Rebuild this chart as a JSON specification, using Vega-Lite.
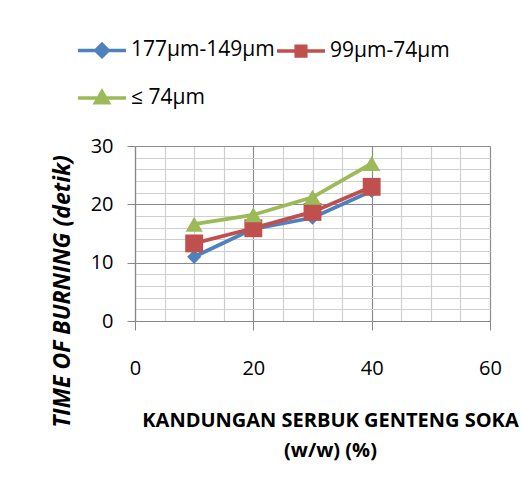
{
  "$schema": "https://vega.github.io/schema/vega-lite/v6.json",
  "autosize": {"type": "none"},
  "padding": {"left": 135, "top": 146, "right": 31, "bottom": 173},
  "width": 355,
  "height": 175,
  "background": "white",
  "config": {
    "font": "Open Sans",
    "view": {"stroke": null},
    "axis": {"labelFont": "Open Sans", "titleFont": "Open Sans", "labelColor": "#000", "titleColor": "#000"}
  },
  "data": {
    "values": [
      {"pct": 10, "time": 11.0, "series": "177µm-149µm"},
      {"pct": 20, "time": 15.8, "series": "177µm-149µm"},
      {"pct": 30, "time": 17.7, "series": "177µm-149µm"},
      {"pct": 40, "time": 22.3, "series": "177µm-149µm"},
      {"pct": 10, "time": 13.3, "series": "99µm-74µm"},
      {"pct": 20, "time": 15.9, "series": "99µm-74µm"},
      {"pct": 30, "time": 18.7, "series": "99µm-74µm"},
      {"pct": 40, "time": 23.0, "series": "99µm-74µm"},
      {"pct": 10, "time": 16.6, "series": "≤ 74µm"},
      {"pct": 20, "time": 18.2, "series": "≤ 74µm"},
      {"pct": 30, "time": 21.2, "series": "≤ 74µm"},
      {"pct": 40, "time": 27.0, "series": "≤ 74µm"}
    ]
  },
  "encoding": {
    "x": {
      "field": "pct", "type": "quantitative",
      "scale": {"domain": [0, 60], "nice": false},
      "axis": {
        "values": [0,5,10,15,20,25,30,35,40,45,50,55,60],
        "labelExpr": "datum.value % 20 === 0 ? datum.label : ''",
        "labelFlush": false,
        "labelFontSize": 20,
        "labelPadding": 28,
        "tickSize": 9,
        "tickColor": "#888",
        "tickOpacity": {"condition": {"test": "datum.value % 20 === 0", "value": 1}, "value": 0},
        "domainColor": "#888",
        "domainWidth": 1.2,
        "grid": true,
        "gridColor": {"condition": {"test": "datum.value % 20 === 0", "value": "#8c8c8c"}, "value": "#cfcfcf"},
        "gridWidth": 1.2,
        "title": ["KANDUNGAN SERBUK GENTENG SOKA", "(w/w) (%)"],
        "titleFontSize": 20,
        "titleFontWeight": "bold",
        "titlePadding": 32,
        "titleLineHeight": 30,
        "titleX": 195
      }
    },
    "y": {
      "field": "time", "type": "quantitative",
      "scale": {"domain": [0, 30], "nice": false},
      "axis": {
        "values": [0,2,4,6,8,10,12,14,16,18,20,22,24,26,28,30],
        "labelExpr": "datum.value % 10 === 0 ? datum.label : ''",
        "labelFlush": false,
        "labelFontSize": 20,
        "labelPadding": 14,
        "tickSize": 8,
        "tickColor": "#888",
        "tickOpacity": {"condition": {"test": "datum.value % 10 === 0", "value": 1}, "value": 0},
        "domainColor": "#888",
        "domainWidth": 1.2,
        "grid": true,
        "gridColor": {"condition": {"test": "datum.value % 10 === 0", "value": "#8c8c8c"}, "value": "#cfcfcf"},
        "gridWidth": 1.2,
        "title": "TIME OF BURNING (detik)",
        "titleFontSize": 23,
        "titleFontWeight": "bold",
        "titleFontStyle": "italic",
        "titleAngle": -90,
        "titleAlign": "center",
        "titleBaseline": "alphabetic",
        "titleX": -66,
        "titleY": 145
      }
    },
    "color": {
      "field": "series", "type": "nominal",
      "scale": {"domain": ["177µm-149µm", "99µm-74µm", "≤ 74µm"], "range": ["#4F81BD", "#C0504D", "#9BBB59"]},
      "legend": {
        "title": null,
        "orient": "none",
        "direction": "horizontal",
        "legendX": -59,
        "legendY": -122,
        "columns": 2,
        "columnPadding": -6,
        "rowPadding": 8,
        "padding": 0,
        "symbolSize": 2304,
        "symbolStrokeWidth": 3.5,
        "labelFont": "Open Sans",
        "labelFontSize": 21,
        "labelColor": "#000",
        "labelOffset": 3,
        "labelLimit": 300,
        "encode": {
          "symbols": {
            "update": {
              "shape": {"signal": "datum.value === '177µm-149µm' ? 'M-1,0L1,0M0,-0.26L0.26,0L0,0.26L-0.26,0Z' : datum.value === '99µm-74µm' ? 'M-1,0L1,0M-0.2,-0.2L0.2,-0.2L0.2,0.2L-0.2,0.2Z' : 'M-1,0L1,0M0,-0.27L0.27,0.2L-0.27,0.2Z'"},
              "size": {"value": 2304},
              "fill": {"signal": "scale('color', datum.value)"},
              "stroke": {"signal": "scale('color', datum.value)"},
              "strokeWidth": {"value": 3.5},
              "opacity": {"value": 1},
              "fillOpacity": {"value": 1}
            }
          }
        }
      }
    }
  },
  "layer": [
    {"mark": {"type": "line", "strokeWidth": 3.8}},
    {
      "transform": [{"filter": "datum.series === '177µm-149µm'"}],
      "mark": {"type": "point", "filled": true, "opacity": 1, "shape": "diamond", "size": 200}
    },
    {
      "transform": [{"filter": "datum.series === '99µm-74µm'"}],
      "mark": {"type": "point", "filled": true, "opacity": 1, "shape": "square", "size": 320}
    },
    {
      "transform": [{"filter": "datum.series === '≤ 74µm'"}],
      "mark": {"type": "point", "filled": true, "opacity": 1, "shape": "triangle-up", "size": 300}
    }
  ]
}
